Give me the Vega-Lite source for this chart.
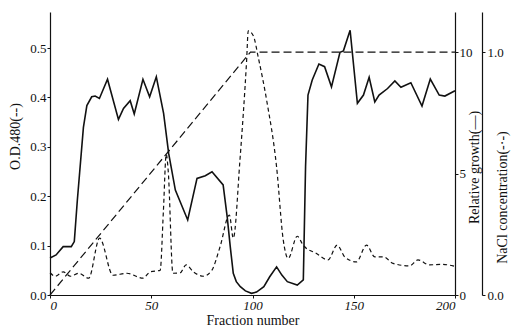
{
  "$schema": "https://vega.github.io/schema/vega-lite/v6.json",
  "width": 405,
  "height": 283,
  "autosize": {"type": "none"},
  "padding": {"left": 50, "top": 12, "right": 65, "bottom": 32},
  "background": "white",
  "config": {
    "view": {"stroke": null},
    "font": "Liberation Serif",
    "axis": {
      "grid": false,
      "domainColor": "#111",
      "tickColor": "#111",
      "labelColor": "#111",
      "titleColor": "#111",
      "labelFont": "Liberation Serif",
      "titleFont": "Liberation Serif",
      "labelFontSize": 13,
      "titleFontSize": 14,
      "titleFontWeight": "normal",
      "tickSize": 3,
      "domainWidth": 1.2
    }
  },
  "datasets": {
    "growth": [
      {"f": 0, "g": 1.52}, {"f": 3, "g": 1.65}, {"f": 6.5, "g": 1.99}, {"f": 10.5, "g": 1.99},
      {"f": 12, "g": 2.2}, {"f": 13.5, "g": 3.9}, {"f": 16.5, "g": 6.9}, {"f": 18.2, "g": 7.8},
      {"f": 20.6, "g": 8.16}, {"f": 22.3, "g": 8.19}, {"f": 24.4, "g": 8.09}, {"f": 28.4, "g": 8.88},
      {"f": 33.8, "g": 7.23}, {"f": 36.3, "g": 7.68}, {"f": 39.6, "g": 8.0}, {"f": 41.6, "g": 7.45},
      {"f": 45.9, "g": 8.88}, {"f": 49.2, "g": 8.16}, {"f": 52.5, "g": 8.98}, {"f": 56.1, "g": 7.48},
      {"f": 58.6, "g": 5.83}, {"f": 61.9, "g": 4.32}, {"f": 68, "g": 3.09}, {"f": 72.6, "g": 4.8},
      {"f": 76.7, "g": 4.91}, {"f": 80, "g": 5.07}, {"f": 85.5, "g": 4.53}, {"f": 87.5, "g": 3.22},
      {"f": 89, "g": 2.0}, {"f": 90.5, "g": 0.89}, {"f": 92, "g": 0.55}, {"f": 94, "g": 0.34},
      {"f": 96.5, "g": 0.17}, {"f": 99.5, "g": 0.07}, {"f": 102, "g": 0.12}, {"f": 105.6, "g": 0.34},
      {"f": 108.5, "g": 0.75}, {"f": 111.9, "g": 1.16}, {"f": 114.5, "g": 0.82}, {"f": 117.2, "g": 0.55},
      {"f": 122.1, "g": 0.41}, {"f": 125.1, "g": 0.62}, {"f": 126.2, "g": 5.28}, {"f": 127.4, "g": 8.23},
      {"f": 129.5, "g": 8.85}, {"f": 132.8, "g": 9.51}, {"f": 135.6, "g": 9.4}, {"f": 139, "g": 8.57},
      {"f": 143.2, "g": 9.99}, {"f": 144.9, "g": 10.05}, {"f": 148.2, "g": 10.9}, {"f": 151.8, "g": 7.89},
      {"f": 154.8, "g": 8.23}, {"f": 157.6, "g": 8.96}, {"f": 160.4, "g": 7.95}, {"f": 162.5, "g": 8.23},
      {"f": 166.7, "g": 8.5}, {"f": 170.3, "g": 8.81}, {"f": 173.3, "g": 8.55}, {"f": 178.2, "g": 8.74},
      {"f": 183.7, "g": 7.78}, {"f": 187.8, "g": 8.89}, {"f": 192.2, "g": 8.23}, {"f": 195, "g": 8.19},
      {"f": 200, "g": 8.41}
    ],
    "od": [
      {"f": 0, "od": 0.045}, {"f": 2.7, "od": 0.038}, {"f": 6.5, "od": 0.047}, {"f": 10.1, "od": 0.038},
      {"f": 14.2, "od": 0.044}, {"f": 19.1, "od": 0.034}, {"f": 24.5, "od": 0.115}, {"f": 31.1, "od": 0.04},
      {"f": 38, "od": 0.044}, {"f": 45.9, "od": 0.034}, {"f": 49.5, "od": 0.047}, {"f": 54.4, "od": 0.05},
      {"f": 56, "od": 0.17}, {"f": 57.4, "od": 0.285}, {"f": 58.4, "od": 0.25}, {"f": 60.7, "od": 0.044},
      {"f": 64.3, "od": 0.045}, {"f": 67.2, "od": 0.061}, {"f": 70.8, "od": 0.047}, {"f": 75.8, "od": 0.038},
      {"f": 79.9, "od": 0.05}, {"f": 84, "od": 0.098}, {"f": 88.6, "od": 0.162}, {"f": 90.5, "od": 0.115},
      {"f": 93.8, "od": 0.273}, {"f": 97.1, "od": 0.475}, {"f": 97.9, "od": 0.535}, {"f": 100.4, "od": 0.525},
      {"f": 102.9, "od": 0.48}, {"f": 107, "od": 0.394}, {"f": 111.9, "od": 0.259}, {"f": 115.2, "od": 0.111},
      {"f": 117.6, "od": 0.074}, {"f": 122.1, "od": 0.119}, {"f": 125, "od": 0.101}, {"f": 131.6, "od": 0.084},
      {"f": 137.3, "od": 0.071}, {"f": 141.8, "od": 0.101}, {"f": 145.6, "od": 0.077}, {"f": 151.3, "od": 0.067},
      {"f": 156.3, "od": 0.101}, {"f": 160.4, "od": 0.077}, {"f": 164.8, "od": 0.077}, {"f": 169.4, "od": 0.064},
      {"f": 177.6, "od": 0.059}, {"f": 181.7, "od": 0.071}, {"f": 187.4, "od": 0.061}, {"f": 193.3, "od": 0.062},
      {"f": 199, "od": 0.059}, {"f": 200, "od": 0.058}
    ],
    "nacl": [
      {"f": 0, "c": 0}, {"f": 99, "c": 1.0}, {"f": 200, "c": 1.0}
    ]
  },
  "encoding": {
    "x": {
      "field": "f", "type": "quantitative",
      "scale": {"domain": [0, 200], "nice": false},
      "axis": {
        "title": "Fraction number", "values": [0, 50, 100, 150, 200],
        "labelFontStyle": "italic", "titlePadding": 1, "labelPadding": 1
      }
    }
  },
  "layer": [
    {
      "data": {"name": "od"},
      "mark": {"type": "line", "color": "#111", "strokeWidth": 1.2, "strokeDash": [4, 3], "interpolate": "monotone"},
      "encoding": {
        "y": {
          "field": "od", "type": "quantitative",
          "scale": {"domain": [0, 0.573], "nice": false},
          "axis": {
            "orient": "left", "values": [0, 0.1, 0.2, 0.3, 0.4, 0.5], "format": ".1f",
            "title": "O.D.480(--)", "titleX": -35, "titleY": 124,
            "titleAngle": -90, "titleAlign": "center", "titleBaseline": "middle", "labelPadding": 1
          }
        }
      }
    },
    {
      "data": {"name": "growth"},
      "mark": {"type": "line", "color": "#111", "strokeWidth": 1.6},
      "encoding": {
        "y": {
          "field": "g", "type": "quantitative",
          "scale": {"domain": [0, 11.65], "nice": false},
          "axis": {
            "orient": "right", "values": [0, 5, 10],
            "title": "Relative growth(—)", "titleX": 19, "titleY": 155,
            "titleAngle": -90, "titleAlign": "center", "titleBaseline": "middle", "labelPadding": 1
          }
        }
      }
    },
    {
      "data": {"name": "nacl"},
      "mark": {"type": "line", "color": "#111", "strokeWidth": 1.2, "strokeDash": [8, 4]},
      "encoding": {
        "y": {
          "field": "c", "type": "quantitative",
          "scale": {"domain": [0, 1.165], "nice": false},
          "axis": {
            "orient": "right", "offset": 27, "values": [0, 1], "format": ".1f",
            "title": "NaCl concentration(-·-)", "titleX": 20, "titleY": 185,
            "titleAngle": -90, "titleAlign": "center", "titleBaseline": "middle", "labelPadding": 2
          }
        }
      }
    }
  ],
  "resolve": {"scale": {"y": "independent"}}
}
